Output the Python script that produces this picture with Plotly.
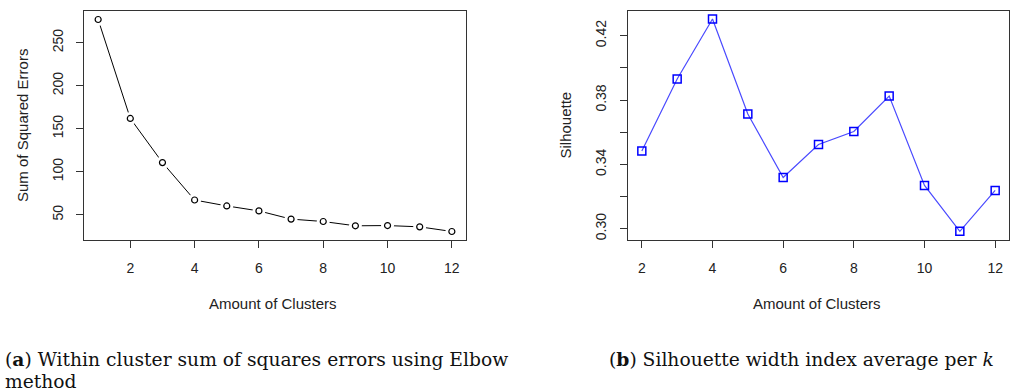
import plotly.graph_objects as go

# Elbow method: within-cluster sum of squared errors per number of clusters
k_elbow = [1, 2, 3, 4, 5, 6, 7, 8, 9, 10, 11, 12]
sse = [277, 162, 110.7, 67.2, 60.3, 54.5, 45, 42.2, 37.2, 37.5, 36, 30.6]

# Average silhouette width per number of clusters
k_sil = [2, 3, 4, 5, 6, 7, 8, 9, 10, 11, 12]
silhouette = [0.3483, 0.3931, 0.4304, 0.3713, 0.3319, 0.3524, 0.3605,
              0.3825, 0.3269, 0.2984, 0.3238]

x_ticks = [2, 4, 6, 8, 10, 12]
sse_ticks = [50, 100, 150, 200, 250]
sil_ticks = [0.30, 0.32, 0.34, 0.36, 0.38, 0.40, 0.42]
sil_tick_text = ["0.30", "", "0.34", "", "0.38", "", "0.42"]

W, H = 1015, 392
tick_font = dict(family="Liberation Sans, Arial, sans-serif", size=14, color="#222")
caption_font = dict(family="DejaVu Serif, serif", size=18.7, color="#111")

fig = go.Figure()

# Left panel: R-style type="b" (line broken around each point)
fig.add_trace(go.Scatter(x=k_elbow, y=sse, mode="lines",
                         line=dict(color="black", width=1),
                         xaxis="x", yaxis="y", hoverinfo="skip"))
fig.add_trace(go.Scatter(x=k_elbow, y=sse, mode="markers",
                         marker=dict(symbol="circle", size=13, color="white",
                                     line=dict(width=0)),
                         xaxis="x", yaxis="y", hoverinfo="skip"))
fig.add_trace(go.Scatter(x=k_elbow, y=sse, mode="markers",
                         marker=dict(symbol="circle-open", size=6, color="black",
                                     line=dict(width=1.2)),
                         xaxis="x", yaxis="y"))

# Right panel: line through square markers
fig.add_trace(go.Scatter(x=k_sil, y=silhouette, mode="lines+markers",
                         line=dict(color="#4a4aff", width=1.2),
                         marker=dict(symbol="square-open", size=8, color="blue",
                                     line=dict(width=1.5)),
                         xaxis="x2", yaxis="y2"))

axis_common = dict(showline=True, mirror=True, linecolor="#333", linewidth=1.2,
                   ticks="outside", ticklen=7, tickcolor="#333", tickwidth=1,
                   showgrid=False, zeroline=False, tickfont=tick_font)

x1_dom = [84 / W, 466 / W]
x2_dom = [627.7 / W, 1009.3 / W]
y_dom = [(H - 240) / H, (H - 11) / H]

fig.update_layout(
    width=W, height=H,
    margin=dict(l=0, r=0, t=0, b=0),
    paper_bgcolor="white", plot_bgcolor="white",
    showlegend=False,
    xaxis=dict(domain=x1_dom, range=[0.56, 12.44], tickvals=x_ticks,
               ticklabelstandoff=8, anchor="y", **axis_common),
    yaxis=dict(domain=y_dom, range=[20.7, 286.9], tickvals=sse_ticks,
               tickangle=-90, ticklabelstandoff=7, anchor="x", **axis_common),
    xaxis2=dict(domain=x2_dom, range=[1.6, 12.4], tickvals=x_ticks,
                ticklabelstandoff=8, anchor="y2", **axis_common),
    yaxis2=dict(domain=y_dom, range=[0.293, 0.4354], tickvals=sil_ticks,
                ticktext=sil_tick_text, tickangle=-90, ticklabelstandoff=8,
                anchor="x2", **axis_common),
)

label_font = dict(family="Liberation Sans, Arial, sans-serif", size=15, color="#222")
annotations = [
    dict(text="Amount of Clusters", x=273 / W, y=(H - 303) / H, showarrow=False,
         xref="paper", yref="paper", xanchor="center", yanchor="middle", font=label_font),
    dict(text="Amount of Clusters", x=817 / W, y=(H - 303) / H, showarrow=False,
         xref="paper", yref="paper", xanchor="center", yanchor="middle", font=label_font),
    dict(text="Sum of Squared Errors", x=22.5 / W, y=(H - 125.5) / H, showarrow=False,
         xref="paper", yref="paper", xanchor="center", yanchor="middle",
         textangle=-90, font=label_font),
    dict(text="Silhouette", x=565 / W, y=(H - 125.5) / H, showarrow=False,
         xref="paper", yref="paper", xanchor="center", yanchor="middle",
         textangle=-90, font=label_font),
    dict(text="(<b>a</b>) Within cluster sum of squares errors using Elbow",
         x=3 / W, y=(H - 359) / H, showarrow=False, xref="paper", yref="paper",
         xanchor="left", yanchor="middle", font=caption_font),
    dict(text="method", x=3 / W, y=(H - 381) / H, showarrow=False,
         xref="paper", yref="paper", xanchor="left", yanchor="middle", font=caption_font),
    dict(text="(<b>b</b>) Silhouette width index average per <i>k</i>",
         x=607 / W, y=(H - 359) / H, showarrow=False, xref="paper", yref="paper",
         xanchor="left", yanchor="middle", font=caption_font),
]
fig.update_layout(annotations=annotations)

fig.write_html("out.html")
